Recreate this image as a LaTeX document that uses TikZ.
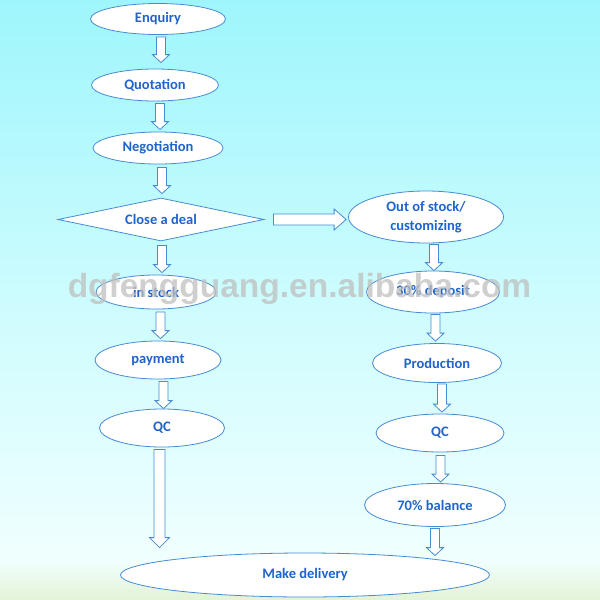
\documentclass[tikz,border=0pt]{standalone}
\usepackage{fontspec}
\setmainfont{Carlito}
\newfontfamily\wmfont{Liberation Sans}
\usetikzlibrary{shapes.geometric,calc}
\definecolor{txt}{RGB}{30,100,205}
\definecolor{edge}{RGB}{70,140,210}
\definecolor{skytop}{RGB}{158,246,252}
\definecolor{skymid}{RGB}{205,252,254}
\definecolor{skybot}{RGB}{240,255,254}
\definecolor{grass}{RGB}{228,242,214}
\tikzset{
  ell/.style={ellipse, draw=edge, fill=white, line width=0.8pt, inner sep=0pt,
    text=txt, font=\fontsize{14.5}{18.5}\selectfont\bfseries, align=center},
  dia/.style={diamond, aspect=4.8, draw=edge, fill=white, line width=0.8pt, inner sep=0pt,
    text=txt, font=\fontsize{14.5}{18.5}\selectfont\bfseries},
  blk/.style={draw=edge, fill=white, line width=0.8pt, line join=miter}
}
% vertical block arrow: #1 start (top centre), #2 tip, #3 shaft half width, #4 head half width, #5 head length
\newcommand\dnarrow[5]{%
  \path #1 coordinate (s) #2 coordinate (t);
  \draw[blk] let \p1=(s), \p2=(t) in
    (\x1-#3pt,\y1) -- (\x1-#3pt,\y2+#5pt) -- (\x1-#4pt,\y2+#5pt) -- (\x1,\y2)
    -- (\x1+#4pt,\y2+#5pt) -- (\x1+#3pt,\y2+#5pt) -- (\x1+#3pt,\y1) -- cycle;}
\begin{document}
\begin{tikzpicture}[x=1pt,y=-1pt]
\useasboundingbox (0,0) rectangle (600,600);
\shade[top color=skytop, bottom color=skymid] (0,0) rectangle (600,300);
\shade[top color=skymid, bottom color=skybot] (0,300) rectangle (600,560);
\shade[top color=skybot, bottom color=grass] (0,560) rectangle (600,600);

% left column
\node[ell, minimum width=135, minimum height=31] (enq) at (158,19) {Enquiry};
\node[ell, minimum width=127, minimum height=32] (quo) at (155,85) {Quotation};
\node[ell, minimum width=130, minimum height=32] (neg) at (158,148) {Negotiation};
\node[dia, minimum width=206, minimum height=43] (deal) at (161,219.5) {Close a deal};
\node[ell, minimum width=120, minimum height=34] (stock) at (156,292) {in stock};
\node[ell, minimum width=126, minimum height=38] (pay) at (158,360) {payment};
\node[ell, minimum width=125, minimum height=38] (qcl) at (162,428) {QC};
% right column
\node[ell, minimum width=155, minimum height=52] (out) at (426,217) {Out of stock/\\customizing};
\node[ell, minimum width=133, minimum height=42] (dep) at (433,292) {30\% deposit};
\node[ell, minimum width=129, minimum height=39] (prod) at (437,363) {Production};
\node[ell, minimum width=128, minimum height=38] (qcr) at (440,433) {QC};
\node[ell, minimum width=141, minimum height=43] (bal) at (435,505) {70\% balance};
% bottom
\node[ell, minimum width=369, minimum height=44] (del) at (305,575) {Make delivery};

% block arrows
\dnarrow{($(enq.south)+(3,2)$)}{($(quo.north)+(6,-6)$)}{4.5}{8.5}{8}
\dnarrow{($(quo.south)+(5,2)$)}{($(neg.north)+(2,-2)$)}{4.5}{8.5}{8}
\dnarrow{($(neg.south)+(4,3)$)}{($(deal.north)+(1,-4)$)}{4.5}{8.5}{8}
\dnarrow{($(deal.south)+(1,4)$)}{($(stock.north)+(6,-2)$)}{4.5}{8.5}{8}
\dnarrow{($(stock.south)+(4.5,2.5)$)}{($(pay.north)+(2.5,-2)$)}{4.5}{8.5}{8}
\dnarrow{($(pay.south)+(5.5,2)$)}{($(qcl.north)+(1.5,0)$)}{4.5}{8.5}{8}
\dnarrow{($(qcl.south)+(-2.5,2)$)}{($(del.north)+(-146,-5)$)}{5.5}{10}{10}
\dnarrow{($(out.south)+(8,1)$)}{($(dep.north)+(1,-0)$)}{4.5}{8.5}{8}
\dnarrow{($(dep.south)+(2.5,1)$)}{($(prod.north)+(-1,-2)$)}{4.5}{8.5}{8}
\dnarrow{($(prod.south)+(5,1)$)}{($(qcr.north)+(2,-1.5)$)}{4.5}{8.5}{8}
\dnarrow{($(qcr.south)+(0.5,3)$)}{($(bal.north)+(5.5,-1)$)}{4.5}{8.5}{8}
\dnarrow{($(bal.south)+(0,1.5)$)}{($(del.north)+(130,3)$)}{4.5}{8.5}{8}

% right block arrow from deal to out
\path ($(deal.east)+(9,0)$) coordinate (rs) ($(out.west)+(-2,2.5)$) coordinate (rt);
\draw[blk] let \p1=(rs), \p2=(rt) in
  (\x1,\y2+5.5pt) -- (\x2-12pt,\y2+5.5pt) -- (\x2-12pt,\y2+10.5pt) -- (\x2,\y2)
  -- (\x2-12pt,\y2-10.5pt) -- (\x2-12pt,\y2-5.5pt) -- (\x1,\y2-5.5pt) -- cycle;

% watermark
\node[text=gray!50, opacity=0.75, font=\wmfont\fontsize{33.5}{36}\selectfont\bfseries, inner sep=0pt]
  (wm) at (299.5,289) {dgfengguang.en.alibaba.com};
\end{tikzpicture}
\end{document}
